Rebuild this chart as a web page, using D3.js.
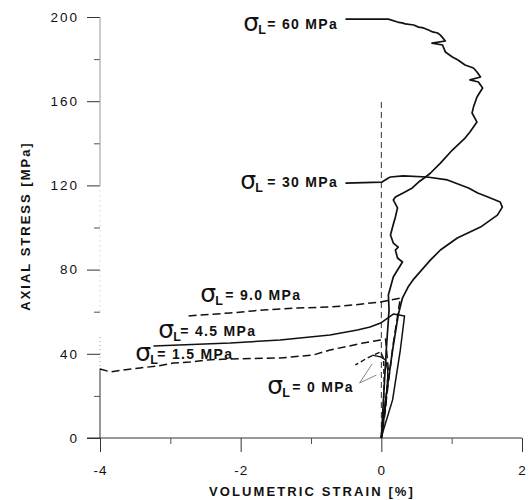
<!DOCTYPE html>
<html>
<head>
<meta charset="utf-8">
<script src="https://cdn.jsdelivr.net/npm/d3@7"></script>
<style>
  body { margin: 0; background: #fff; }
  text { font-family: "Liberation Sans", Arial, sans-serif; fill: #111; }
</style>
</head>
<body>
<svg id="chart" width="530" height="500"></svg>
<script>
// values: [volumetric strain %, axial stress MPa]
const sigma60 = [
  [0, 0], [0.03, 18.1], [0.07, 41.8], [0.11, 60.8], [0.10, 67.9], [0.17, 76.5],
  [0.30, 83.6], [0.23, 85.5], [0.20, 89.3], [0.24, 90.7], [0.17, 92.6], [0.13, 96.4],
  [0.16, 100.2], [0.20, 105.0], [0.23, 109.3], [0.17, 113.1], [0.20, 114.5], [0.31, 116.4],
  [0.44, 118.8], [0.53, 121.6], [0.63, 124.0], [0.70, 125.9], [0.84, 130.6], [1.01, 136.8],
  [1.19, 142.5], [1.26, 145.4], [1.36, 150.1], [1.29, 154.4], [1.31, 157.2], [1.36, 162.0],
  [1.44, 166.3], [1.38, 169.1], [1.26, 170.1], [1.41, 171.5], [1.36, 173.9], [1.31, 175.8],
  [1.19, 177.2], [1.09, 179.6], [1.01, 181.0], [0.91, 183.4], [0.87, 186.7], [0.72, 187.6],
  [0.91, 188.6], [0.84, 191.4], [0.80, 192.4], [0.73, 192.9], [0.67, 193.8], [0.60, 194.8],
  [0.53, 195.2], [0.46, 196.2], [0.34, 196.7], [0.31, 197.1], [0.23, 197.6], [0.10, 199.0],
  [-0.51, 199.0]
];
const sigma30 = [
  [0, 0], [0.06, 18.1], [0.16, 41.8], [0.24, 58.4], [0.30, 66.5], [0.38, 71.7],
  [0.46, 75.5], [0.55, 78.9], [0.70, 84.6], [0.84, 89.3], [1.08, 95.0], [1.41, 100.2],
  [1.65, 105.9], [1.72, 109.7], [1.69, 112.1], [1.48, 115.0], [1.37, 116.4], [1.24, 118.8],
  [0.94, 122.6], [0.65, 124.0], [0.31, 124.5], [0.13, 124.0], [0.10, 123.5], [0.01, 121.6],
  [-0.51, 121.1]
];
const sigma9 = [
  [-2.74, 58.0], [-2.15, 59.4], [-1.68, 60.8], [-1.19, 61.8], [-0.73, 62.2], [-0.40, 63.2],
  [-0.01, 64.6], [0.27, 66.5], [0.17, 45.0], [0.07, 18.0], [0, 0]
];
const sigma45 = [
  [-3.24, 43.7], [-2.15, 45.1], [-1.44, 46.6], [-0.73, 48.9], [-0.34, 51.3], [-0.16, 52.7],
  [-0.01, 54.6], [0.17, 58.9], [0.33, 58.0], [0.27, 41.8], [0.16, 18.1], [0.03, 3.8], [0, 0]
];
const sigma15 = [
  [-4.0, 32.8], [-3.85, 31.4], [-3.67, 32.3], [-3.43, 33.3], [-3.18, 34.2], [-2.96, 35.6],
  [-2.72, 36.1], [-2.47, 37.1], [-2.19, 37.5], [-1.44, 38.0], [-0.97, 39.4], [-0.73, 41.8],
  [-0.26, 45.1], [-0.01, 46.6], [0.06, 47.0], [0.10, 32.3], [0.06, 13.3], [0, 0]
];
const sigma0dash = [
  [0, 0], [0.03, 13.0], [0.04, 28.0], [0.03, 38.0], [-0.01, 40.9], [-0.11, 39.4],
  [-0.20, 38.0], [-0.37, 34.7]
];
const sigma0solid = [
  [0, 0], [0.06, 15.0], [0.09, 29.0], [0.09, 32.3], [0.06, 37.1], [-0.01, 38.5], [-0.13, 39.4]
];
const zeroLine = [[0, 0], [0, 160]];
const leader = [[-0.13, 35.2], [-0.31, 26.1], [-0.07, 29.9]];

const xTicks = [-4, -2, 0, 2];
const xMinor = [-3, -1, 1];
const yTicks = [0, 40, 80, 120, 160, 200];
const yMinor = [20, 60, 100, 140, 180];

const labels = [
  { v: '60', sx: -1.962, tx: -1.621, by: 194.3 },
  { v: '30', sx: -2.005, tx: -1.621, by: 119.2 },
  { v: '9.0', sx: -2.574, tx: -2.218, by: 65.6 },
  { v: '4.5', sx: -3.171, tx: -2.858, by: 48.4 },
  { v: '1.5', sx: -3.498, tx: -3.185, by: 37.6 },
  { v: '0', sx: -1.621, tx: -1.266, by: 21.9 }
];

const svg = d3.select('#chart');
const x = d3.scaleLinear().domain([-4, 2]).range([100, 522]);
const y = d3.scaleLinear().domain([0, 200]).range([438, 17]);
const line = d3.line().x(d => x(d[0])).y(d => y(d[1]));

// y axis: ticks + labels, domain drawn by hand (the scan is broken in places)
const gy = svg.append('g').attr('transform', `translate(${x(-4)},0)`)
  .call(d3.axisLeft(y).tickValues(yTicks).tickSize(13).tickPadding(8));
gy.select('.domain').remove();
gy.selectAll('.tick line').attr('stroke', '#333');
gy.selectAll('.tick text').style('font-size', '13.5px').style('letter-spacing', '2px')
  .attr('fill', '#111').attr('font-family', null);

const gyMinor = svg.append('g').attr('transform', `translate(${x(-4)},0)`)
  .call(d3.axisLeft(y).tickValues(yMinor).tickSize(6).tickFormat(''));
gyMinor.select('.domain').remove();
gyMinor.selectAll('.tick line').attr('stroke', '#555');

const ySeg = [
  { a: 200, b: 120, c: '#999', d: null },
  { a: 120, b: 60, c: '#bbb', d: '1,4' },
  { a: 48, b: 33, c: '#999', d: '1,3' },
  { a: 33, b: 0, c: '#333', d: null }
];
svg.append('g').selectAll('line').data(ySeg).join('line')
  .attr('x1', x(-4)).attr('x2', x(-4))
  .attr('y1', d => y(d.a)).attr('y2', d => y(d.b))
  .attr('stroke', d => d.c).attr('stroke-dasharray', d => d.d);

// x axis
const gx = svg.append('g').attr('transform', `translate(0,${y(0)})`)
  .call(d3.axisBottom(x).tickValues(xTicks).tickSize(14).tickPadding(13)
    .tickFormat(d3.format('d')));
gx.select('.domain').attr('stroke', '#333').attr('d', `M${x(-4) - 13},0H${x(2)}`);
gx.selectAll('.tick line').attr('stroke', '#333');
gx.selectAll('.tick text').style('font-size', '13.5px').style('letter-spacing', '1px')
  .attr('fill', '#111').attr('font-family', null)
  .text(d => d < 0 ? '-' + Math.abs(d) : d);

const gxMinor = svg.append('g').attr('transform', `translate(0,${y(0)})`)
  .call(d3.axisBottom(x).tickValues(xMinor).tickSize(6).tickFormat(''));
gxMinor.select('.domain').remove();
gxMinor.selectAll('.tick line').attr('stroke', '#555');

// axis titles
svg.append('text').attr('x', 312).attr('y', 496).attr('text-anchor', 'middle')
  .style('font-size', '13px').style('font-weight', 'bold').style('letter-spacing', '2.1px')
  .text('VOLUMETRIC STRAIN [%]');
svg.append('text').attr('transform', 'translate(30,226) rotate(-90)').attr('text-anchor', 'middle')
  .style('font-size', '13px').style('font-weight', 'bold').style('letter-spacing', '2px')
  .text('AXIAL STRESS [MPa]');

// dashed reference line at zero volumetric strain
svg.append('path').attr('d', line(zeroLine)).attr('fill', 'none')
  .attr('stroke', '#333').attr('stroke-width', 1).attr('stroke-dasharray', '6,4');

// curves
const curves = [
  { pts: sigma60, dash: null, w: 1.7 },
  { pts: sigma30, dash: null, w: 1.7 },
  { pts: sigma9, dash: '8,4', w: 1.5 },
  { pts: sigma45, dash: null, w: 1.5 },
  { pts: sigma15, dash: '8,4', w: 1.5 },
  { pts: sigma0dash, dash: '5,3', w: 1.4 },
  { pts: sigma0solid, dash: null, w: 1.3 }
];
svg.append('g').selectAll('path').data(curves).join('path')
  .attr('d', d => line(d.pts))
  .attr('fill', 'none').attr('stroke', '#111')
  .attr('stroke-width', d => d.w).attr('stroke-dasharray', d => d.dash)
  .attr('stroke-linejoin', 'round');

// leader lines for the 0 MPa label
svg.append('path').attr('d', line(leader)).attr('fill', 'none')
  .attr('stroke', '#777').attr('stroke-width', 0.9);

// curve labels  σL = ... MPa
const lg = svg.append('g').selectAll('g').data(labels).join('g');
lg.append('text').attr('x', d => x(d.sx)).attr('y', d => y(d.by) + 2)
  .style('font-family', '"DejaVu Sans", sans-serif').style('font-size', '25px')
  .text('σ');
lg.append('text').attr('x', d => x(d.sx) + 15).attr('y', d => y(d.by) + 5)
  .style('font-size', '12.5px').style('font-weight', 'bold').text('L');
lg.append('text').attr('x', d => x(d.tx)).attr('y', d => y(d.by))
  .style('font-size', '14px').style('font-weight', 'bold').style('letter-spacing', '1.3px')
  .text(d => `= ${d.v} MPa`);
</script>
</body>
</html>
